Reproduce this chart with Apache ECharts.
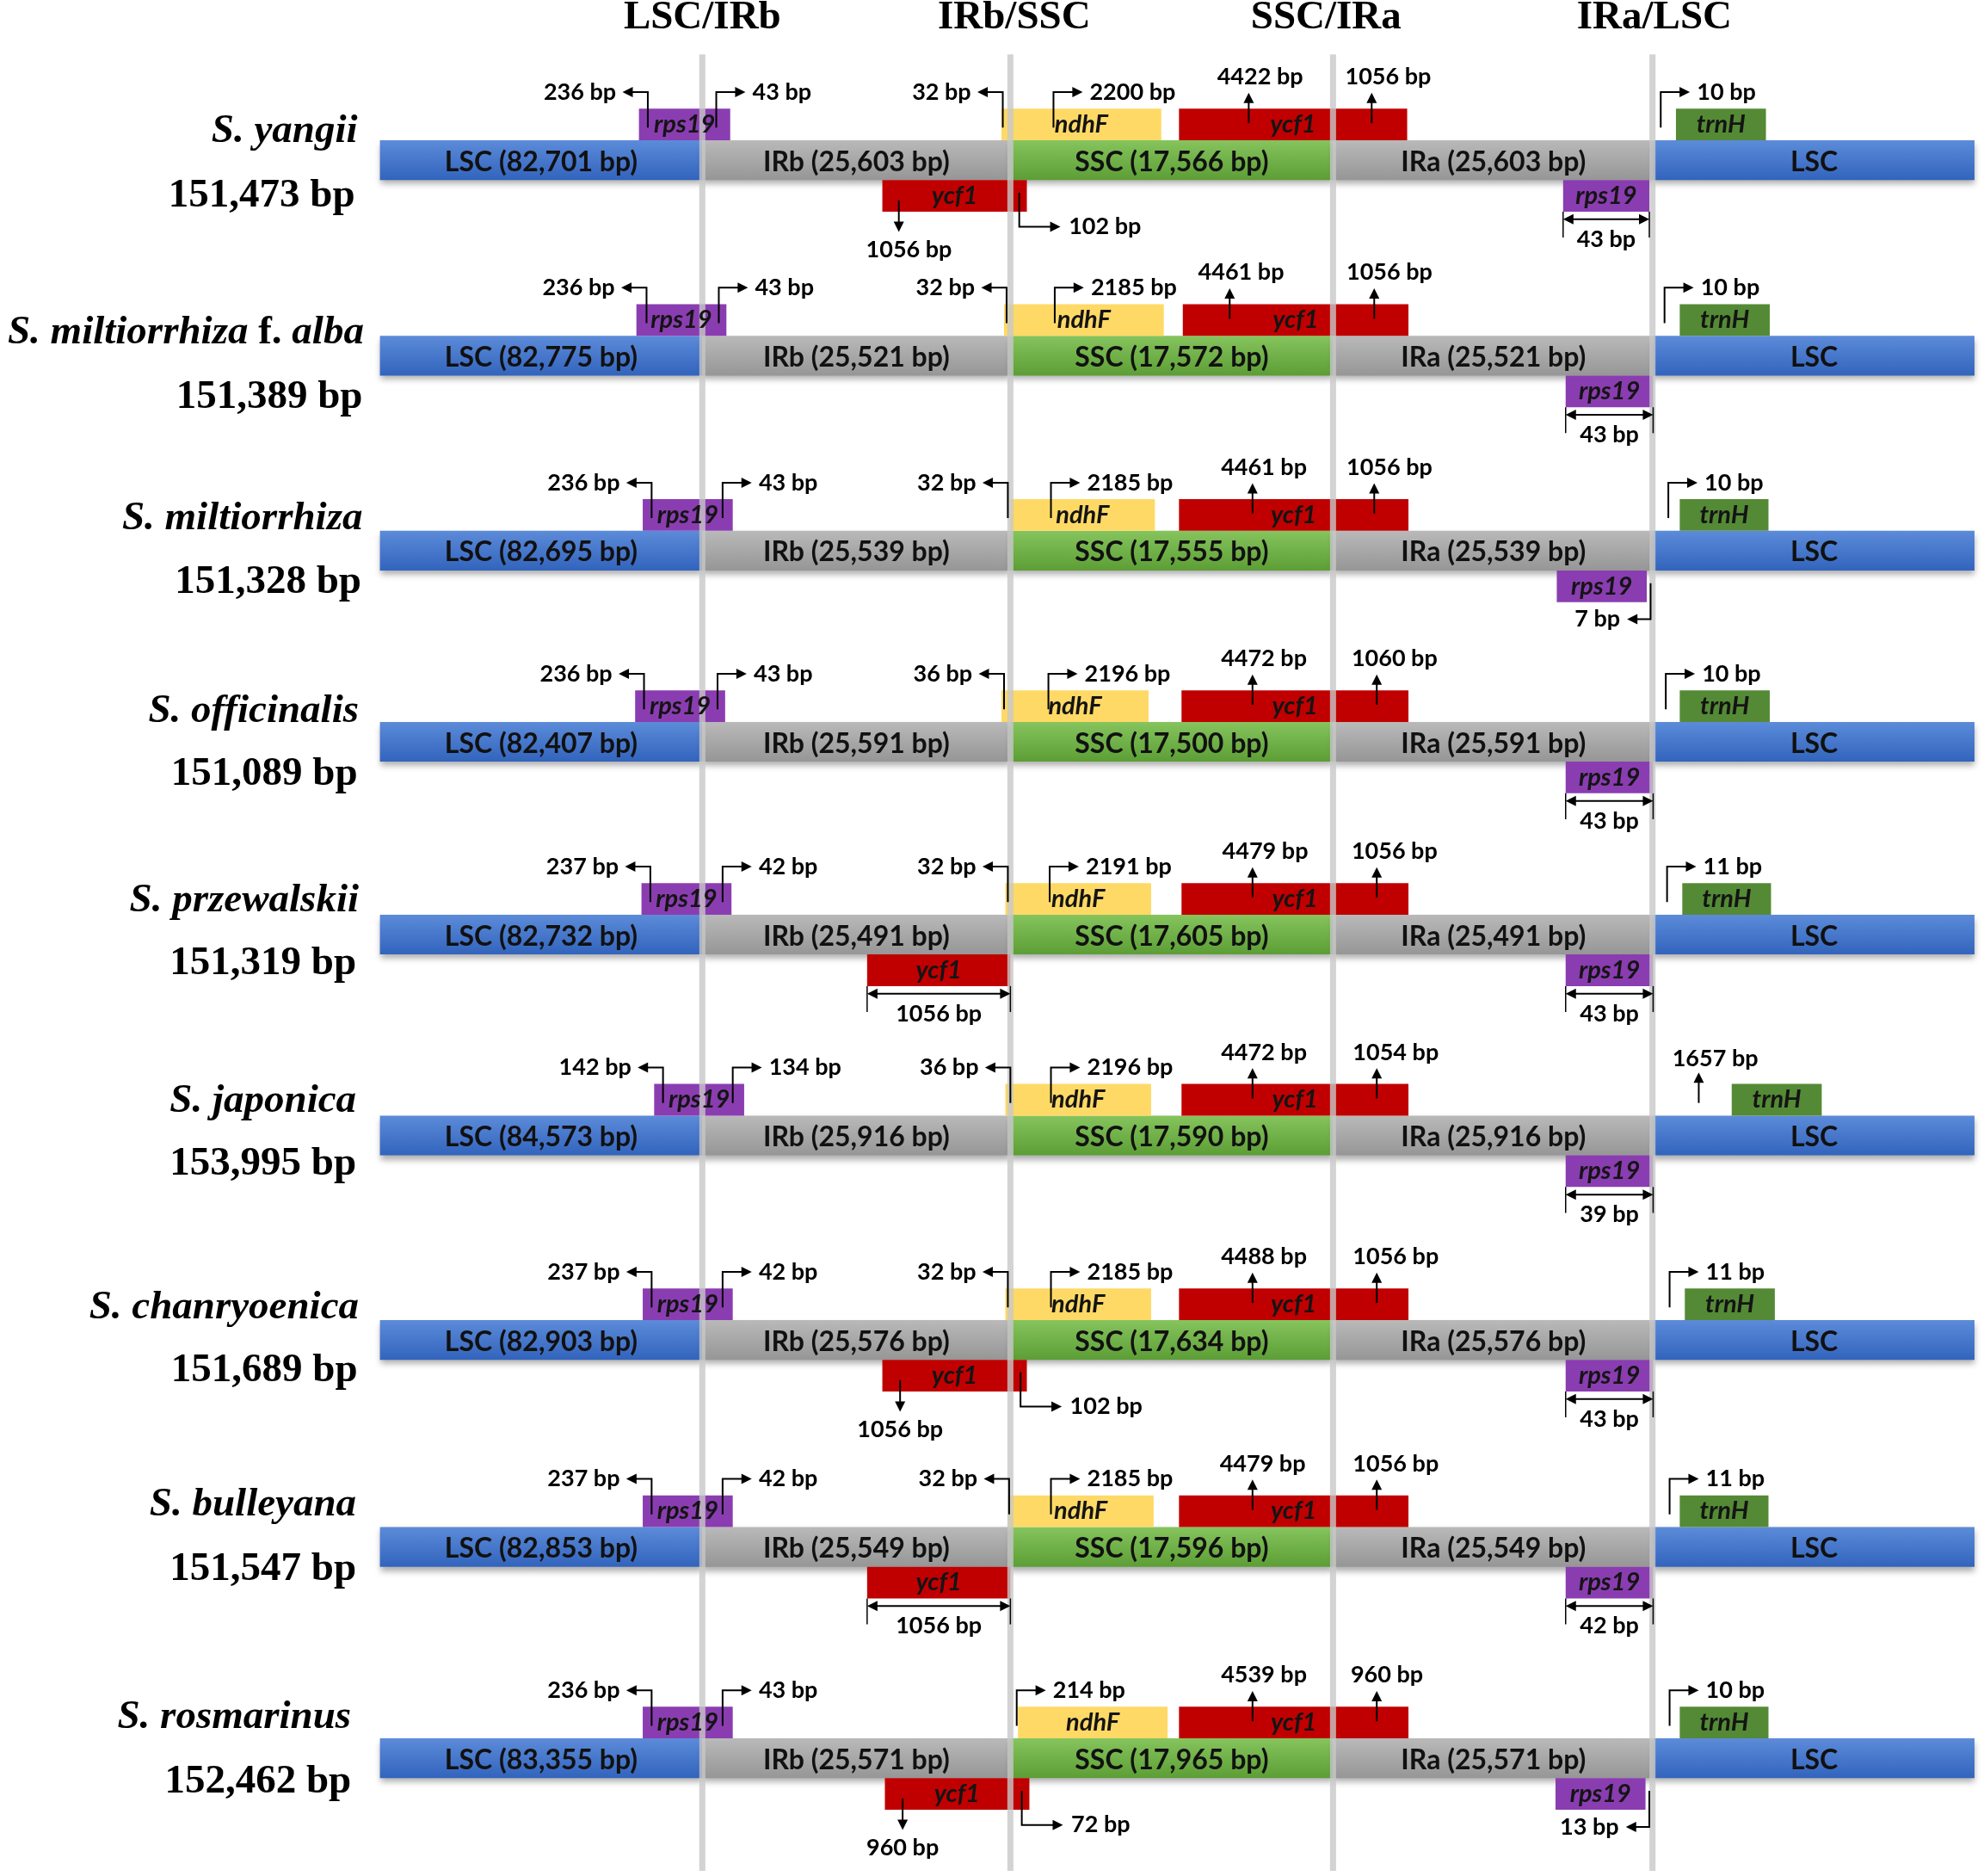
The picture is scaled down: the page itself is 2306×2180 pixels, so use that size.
<!DOCTYPE html>
<html>
<head>
<meta charset="utf-8">
<script src="https://cdn.jsdelivr.net/npm/echarts@6/dist/echarts.min.js"></script>
<style>
html,body{margin:0;padding:0;background:#ffffff;}
#chart{width:2306px;height:2180px;}
</style>
</head>
<body>
<div id="chart"></div>
<script>
// ---------------- DATA ----------------
const speciesNames = ['S. yangii','S. miltiorrhiza f. alba','S. miltiorrhiza','S. officinalis','S. przewalskii','S. japonica','S. chanryoenica','S. bulleyana','S. rosmarinus'];
const genomeSizes = ['151,473 bp','151,389 bp','151,328 bp','151,089 bp','151,319 bp','153,995 bp','151,689 bp','151,547 bp','152,462 bp'];
const lscSizes = ['82,701','82,775','82,695','82,407','82,732','84,573','82,903','82,853','83,355'];
const irSizes  = ['25,603','25,521','25,539','25,591','25,491','25,916','25,576','25,549','25,571'];
const sscSizes = ['17,566','17,572','17,555','17,500','17,605','17,590','17,634','17,596','17,965'];
const junctionTitles = ['LSC/IRb','IRb/SSC','SSC/IRa','IRa/LSC'];
const geneNames = ['rps19','ndhF','ycf1','trnH'];

// gene extents on the schematic axis (start, end), per species row
const rps19Top = [[504,576],[502,573],[507,578],[501,572],[506,577],[516,587],[507,578],[507,578],[507,578]];
const ndhFTop  = [[790,916],[792,918],[797,911],[790,906],[793,908],[793,908],[793,908],[795,910],[803,921]];
const ycf1Top  = [[930,1110],[933,1111],[930,1111],[932,1111],[932,1111],[932,1111],[930,1111],[930,1111],[930,1111]];
const trnHTop  = [[1322,1393],[1325,1396],[1325,1395],[1325,1396],[1327,1397],[1366,1437],[1329,1400],[1325,1395],[1325,1395]];
const ycf1Bottom = [[696,810],null,null,null,[684,797],null,[696,810],[684,797],[698,812]];
const rps19Bottom = [[1233,1301],[1235,1304],[1228,1299],[1235,1304],[1235,1304],[1235,1304],[1235,1304],[1235,1304],[1227,1298]];

// annotations: [row, kind, x, x2 / label x, text]
const annotations = [
 [0,'L',511,0,'236 bp'],[0,'R',565,0,'43 bp'],[0,'L',791,0,'32 bp'],[0,'R',831,0,'2200 bp'],
 [0,'U',985,994,'4422 bp'],[0,'U',1082,1095,'1056 bp'],[0,'R',1310,0,'10 bp'],
 [0,'D',709,717,'1056 bp'],[0,'DR',804,0,'102 bp'],[0,'S',1233,1301,'43 bp'],

 [1,'L',510,0,'236 bp'],[1,'R',567,0,'43 bp'],[1,'L',794,0,'32 bp'],[1,'R',832,0,'2185 bp'],
 [1,'U',970,979,'4461 bp'],[1,'U',1084,1096,'1056 bp'],[1,'R',1313,0,'10 bp'],[1,'S',1235,1304,'43 bp'],

 [2,'L',514,0,'236 bp'],[2,'R',570,0,'43 bp'],[2,'L',795,0,'32 bp'],[2,'R',829,0,'2185 bp'],
 [2,'U',988,997,'4461 bp'],[2,'U',1084,1096,'1056 bp'],[2,'R',1316,0,'10 bp'],[2,'DL',1302,0,'7 bp'],

 [3,'L',508,0,'236 bp'],[3,'R',566,0,'43 bp'],[3,'L',792,0,'36 bp'],[3,'R',827,0,'2196 bp'],
 [3,'U',988,997,'4472 bp'],[3,'U',1086,1100,'1060 bp'],[3,'R',1314,0,'10 bp'],[3,'S',1235,1304,'43 bp'],

 [4,'L',513,0,'237 bp'],[4,'R',570,0,'42 bp'],[4,'L',795,0,'32 bp'],[4,'R',828,0,'2191 bp'],
 [4,'U',988,998,'4479 bp'],[4,'U',1086,1100,'1056 bp'],[4,'R',1315,0,'11 bp'],
 [4,'S',684,797,'1056 bp'],[4,'S',1235,1304,'43 bp'],

 [5,'L',523,0,'142 bp'],[5,'R',578,0,'134 bp'],[5,'L',797,0,'36 bp'],[5,'R',829,0,'2196 bp'],
 [5,'U',988,997,'4472 bp'],[5,'U',1086,1101,'1054 bp'],[5,'UL',1340,1353,'1657 bp'],[5,'S',1235,1304,'39 bp'],

 [6,'L',514,0,'237 bp'],[6,'R',570,0,'42 bp'],[6,'L',795,0,'32 bp'],[6,'R',829,0,'2185 bp'],
 [6,'U',988,997,'4488 bp'],[6,'U',1086,1101,'1056 bp'],[6,'R',1317,0,'11 bp'],
 [6,'D',710,710,'1056 bp'],[6,'DR',805,0,'102 bp'],[6,'S',1235,1304,'43 bp'],

 [7,'L',514,0,'237 bp'],[7,'R',570,0,'42 bp'],[7,'L',796,0,'32 bp'],[7,'R',829,0,'2185 bp'],
 [7,'U',988,996,'4479 bp'],[7,'U',1086,1101,'1056 bp'],[7,'R',1317,0,'11 bp'],
 [7,'S',684,797,'1056 bp'],[7,'S',1235,1304,'42 bp'],

 [8,'L',514,0,'236 bp'],[8,'R',570,0,'43 bp'],[8,'R',802,0,'214 bp'],
 [8,'U',988,997,'4539 bp'],[8,'U',1086,1094,'960 bp'],[8,'R',1317,0,'10 bp'],
 [8,'D',712,712,'960 bp'],[8,'DR',806,0,'72 bp'],[8,'DL',1301,0,'13 bp']
];

// ---------------- LAYOUT ----------------
const X_MAX = 1565, Y_MAX = 1482;
const rowCenters = [126.5, 281, 435, 586, 738.3, 897, 1058.5, 1222, 1389];
const nameY = [104, 263, 410, 562, 712, 870, 1033, 1189, 1357];
const sizeY = [155, 314, 460, 612, 761, 920, 1083, 1240, 1408];
const nameRight = [282, 287, 286, 283, 283, 281, 283, 281, 277];
const sizeRight = [280, 286, 285, 282, 281, 281, 282, 281, 277];
const boundaries = [299.7, 554, 797, 1051.5, 1304.5, 1557.5];
const separatorX = [554, 797, 1051.5, 1303.5];
const titleX = [554, 800, 1046, 1305];
const BAR_H = 31.4, GENE_H = 25;

const SERIF = "'Liberation Serif','Times New Roman',serif";
const SANS = "Lato,'Noto Sans',sans-serif";

const G = echarts.graphic;
const segFill = [
  new G.LinearGradient(0,0,0,1,[{offset:0,color:'#5c8bd9'},{offset:1,color:'#3264bd'}]),
  new G.LinearGradient(0,0,0,1,[{offset:0,color:'#b9b9b9'},{offset:1,color:'#969696'}]),
  new G.LinearGradient(0,0,0,1,[{offset:0,color:'#86c45d'},{offset:1,color:'#5c9e35'}]),
  new G.LinearGradient(0,0,0,1,[{offset:0,color:'#b9b9b9'},{offset:1,color:'#969696'}]),
  new G.LinearGradient(0,0,0,1,[{offset:0,color:'#5c8bd9'},{offset:1,color:'#3264bd'}])
];
const geneColors = ['#8a3db0','#ffd966','#c00000','#548a35'];

function segLabel(s, r) {
  if (s === 0) return 'LSC (' + lscSizes[r] + ' bp)';
  if (s === 1) return 'IRb (' + irSizes[r] + ' bp)';
  if (s === 2) return 'SSC (' + sscSizes[r] + ' bp)';
  if (s === 3) return 'IRa (' + irSizes[r] + ' bp)';
  return 'LSC';
}

// ---------------- SERIES DATA ----------------
const barData = [];
rowCenters.forEach((yc, r) => { for (let s = 0; s < 5; s++) barData.push([boundaries[s], boundaries[s+1], yc, s, r]); });

const geneData = [];
[[rps19Top,0,0],[ndhFTop,0,1],[ycf1Top,0,2],[trnHTop,0,3],[ycf1Bottom,1,2],[rps19Bottom,1,0]].forEach(([arr, side, g]) => {
  arr.forEach((b, r) => { if (b) geneData.push([b[0], b[1], rowCenters[r], side, g]); });
});

const sepData = separatorX.map((x, i) => [x, i]);
const labelData = [];
speciesNames.forEach((n, r) => { labelData.push([nameRight[r], nameY[r], r, 0]); labelData.push([sizeRight[r], sizeY[r], r, 1]); });
const annoData = annotations.map((a, i) => [a[2], rowCenters[a[0]], i]);

// ---------------- RENDERERS ----------------
function renderBar(params, api) {
  const x0 = api.value(0), x1 = api.value(1), yc = api.value(2), s = api.value(3), r = api.value(4);
  const p0 = api.coord([x0, yc - BAR_H/2]), p1 = api.coord([x1, yc + BAR_H/2]);
  const pc = api.coord([(x0 + x1)/2, yc + 1.5]);
  return {type:'group', children:[
    {type:'rect', shape:{x:p0[0], y:p0[1], width:p1[0]-p0[0], height:p1[1]-p0[1]},
     style:{fill:segFill[s], shadowBlur:7, shadowOffsetY:5, shadowColor:'rgba(0,0,0,0.32)'}},
    {type:'text', x:pc[0], y:pc[1], style:{text:segLabel(s, r), fill:'#111', fontFamily:SANS, fontWeight:'bold', fontSize:32, align:'center', verticalAlign:'middle'}}
  ]};
}

function geneBox(api) {
  const x0 = api.value(0), x1 = api.value(1), yc = api.value(2), side = api.value(3), g = api.value(4);
  const yTop = side === 0 ? yc - BAR_H/2 - GENE_H : yc + BAR_H/2;
  return {x0:x0, x1:x1, yTop:yTop, g:g};
}

function renderGene(params, api) {
  const b = geneBox(api);
  const p0 = api.coord([b.x0, b.yTop]), p1 = api.coord([b.x1, b.yTop + GENE_H]);
  return {type:'rect', shape:{x:p0[0], y:p0[1], width:p1[0]-p0[0], height:p1[1]-p0[1]}, style:{fill:geneColors[b.g]}};
}

function renderGeneLabel(params, api) {
  const b = geneBox(api);
  const pc = api.coord([(b.x0 + b.x1)/2, b.yTop + GENE_H/2]);
  return {type:'text', x:pc[0], y:pc[1], style:{text:geneNames[b.g], fill:'#141414', fontFamily:SANS, fontWeight:'bold', fontStyle:'italic', fontSize:29, align:'center', verticalAlign:'middle'}};
}

function renderSep(params, api) {
  const x = api.value(0), i = api.value(1);
  const p0 = api.coord([x - 2.4, 43]), p1 = api.coord([x + 2.4, 1478]);
  const pt = api.coord([titleX[i], 14]);
  return {type:'group', children:[
    {type:'rect', shape:{x:p0[0], y:p0[1], width:p1[0]-p0[0], height:p1[1]-p0[1]}, style:{fill:'rgba(200,200,200,0.8)'}},
    {type:'text', x:pt[0], y:pt[1], style:{text:junctionTitles[i], fill:'#000', fontFamily:SERIF, fontWeight:'bold', fontSize:47, align:'center', verticalAlign:'middle'}}
  ]};
}

function renderLabel(params, api) {
  const x = api.value(0), y = api.value(1), r = api.value(2), kind = api.value(3);
  const p = api.coord([x, y]);
  if (kind === 1) {
    return {type:'text', x:p[0], y:p[1], style:{text:genomeSizes[r], fill:'#000', fontFamily:SERIF, fontWeight:'bold', fontSize:47, align:'right', verticalAlign:'middle'}};
  }
  const name = speciesNames[r];
  let text;
  if (name.indexOf(' f. ') >= 0) {
    const parts = name.split(' f. ');
    text = '{i|' + parts[0] + ' }{n|f.}{i| ' + parts[1] + '}';
  } else {
    text = '{i|' + name + '}';
  }
  const base = {fontFamily:SERIF, fontWeight:'bold', fontSize:47, fill:'#000'};
  return {type:'text', x:p[0], y:p[1], style:{text:text, fill:'#000', fontFamily:SERIF, fontWeight:'bold', fontSize:47, align:'right', verticalAlign:'middle',
    rich:{i:Object.assign({fontStyle:'italic'}, base), n:Object.assign({fontStyle:'normal'}, base)}}};
}

function arrowParts(pts, headAtStart, headAtEnd) {
  const L = 12, W = 6;
  const out = [];
  const p = pts.map(q => q.slice());
  function head(tip, from) {
    const dx = tip[0] - from[0], dy = tip[1] - from[1];
    const len = Math.sqrt(dx*dx + dy*dy) || 1;
    const ux = dx/len, uy = dy/len;
    const bx = tip[0] - ux*L, by = tip[1] - uy*L;
    const nx = -uy, ny = ux;
    out.push({type:'polygon', shape:{points:[[tip[0],tip[1]],[bx+nx*W,by+ny*W],[bx-nx*W,by-ny*W]]}, style:{fill:'#000'}});
    return [tip[0] - ux*L*0.7, tip[1] - uy*L*0.7];
  }
  if (headAtEnd) { const n = p.length; p[n-1] = head(pts[n-1], pts[n-2]); }
  if (headAtStart) { p[0] = head(pts[0], pts[1]); }
  out.unshift({type:'polyline', shape:{points:p}, style:{stroke:'#000', lineWidth:2, fill:null}});
  return out;
}

function renderAnno(params, api) {
  const a = annotations[api.value(2)];
  const kind = a[1], x = a[2], x2 = a[3], text = a[4];
  const yc = rowCenters[a[0]];
  const top = yc - BAR_H/2, bot = yc + BAR_H/2;
  const P = (u, v) => api.coord([u, v]);
  let children = [];
  const label = (u, v, align) => {
    const q = P(u, v);
    children.push({type:'text', x:q[0], y:q[1], style:{text:text, fill:'#000', fontFamily:SANS, fontWeight:'bold', fontSize:27, align:align, verticalAlign:'middle'}});
  };
  if (kind === 'L') {
    children = children.concat(arrowParts([P(x, top-10), P(x, top-38), P(x-20, top-38)], false, true));
    label(x-25, top-38, 'right');
  } else if (kind === 'R') {
    children = children.concat(arrowParts([P(x, top-10), P(x, top-38), P(x+23, top-38)], false, true));
    label(x+28.5, top-38, 'left');
  } else if (kind === 'U') {
    children = children.concat(arrowParts([P(x, top-13.5), P(x, top-37.5)], false, true));
    label(x2, top-50, 'center');
  } else if (kind === 'UL') {
    children = children.concat(arrowParts([P(x, top-10), P(x, top-34)], false, true));
    label(x2, top-45, 'center');
  } else if (kind === 'D') {
    children = children.concat(arrowParts([P(x, bot+16), P(x, bot+41)], false, true));
    label(x2, bot+55, 'center');
  } else if (kind === 'DR') {
    children = children.concat(arrowParts([P(x, bot+10), P(x, bot+37), P(x+32.5, bot+37)], false, true));
    label(x+39, bot+37, 'left');
  } else if (kind === 'DL') {
    children = children.concat(arrowParts([P(x, bot+10), P(x, bot+38.5), P(x-18.5, bot+38.5)], false, true));
    label(x-24, bot+38.5, 'right');
  } else if (kind === 'S') {
    children = children.concat(arrowParts([P(x, bot+31), P(x2, bot+31)], true, true));
    [x, x2].forEach(u => {
      const q0 = P(u, bot+25), q1 = P(u, bot+45.5);
      children.push({type:'line', shape:{x1:q0[0], y1:q0[1], x2:q1[0], y2:q1[1]}, style:{stroke:'#000', lineWidth:1.5}});
    });
    label((x + x2)/2, bot+47, 'center');
  }
  return {type:'group', children:children};
}

// ---------------- CHART ----------------
const chart = echarts.init(document.getElementById('chart'), null, {renderer:'canvas'});
chart.setOption({
  backgroundColor:'#ffffff',
  animation:false,
  grid:{left:0, right:0, top:0, bottom:0},
  xAxis:{type:'value', min:0, max:X_MAX, show:false},
  yAxis:{type:'value', min:0, max:Y_MAX, inverse:true, show:false},
  tooltip:{show:false},
  series:[
    {type:'custom', name:'regions', z:2, renderItem:renderBar, data:barData, silent:true},
    {type:'custom', name:'genes', z:3, renderItem:renderGene, data:geneData, silent:true},
    {type:'custom', name:'junctions', z:4, renderItem:renderSep, data:sepData, silent:true},
    {type:'custom', name:'gene labels', z:5, renderItem:renderGeneLabel, data:geneData, silent:true},
    {type:'custom', name:'annotations', z:6, renderItem:renderAnno, data:annoData, silent:true},
    {type:'custom', name:'species', z:7, renderItem:renderLabel, data:labelData, silent:true}
  ]
});
</script>
</body>
</html>
